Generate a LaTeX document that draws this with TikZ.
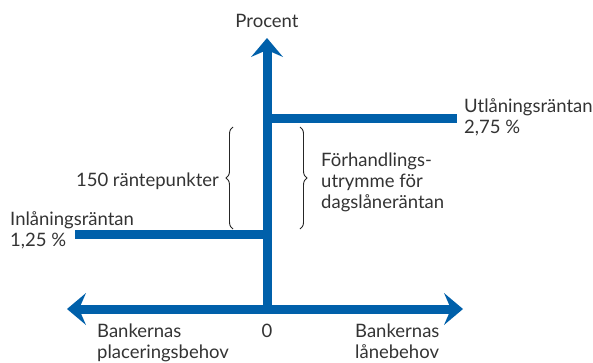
\documentclass[tikz,border=0pt]{standalone}
\usepackage{fontspec}
\setmainfont{Lato}
\usetikzlibrary{arrows.meta,decorations.pathreplacing}
\definecolor{rateblue}{RGB}{0,96,170}
\tikzstyle{axis} = [draw=rateblue, line width=9pt]
\tikzstyle{txt} = [inner sep=0pt, text=black!80, align=left,
    font=\fontsize{18.5}{21}\selectfont]
\tikzstyle{curly} = [draw=black!85, line width=0.9pt,
    decorate, decoration={brace, amplitude=7pt}]

\begin{document}
\begin{tikzpicture}[x=1pt, y=-1pt,
    >={Stealth[length=19pt, width=32pt, inset=7pt, line width=0pt]}]
    \useasboundingbox (0,0) rectangle (593,362);

    % Axis end points
    \coordinate (origin) at (267,309);
    \coordinate (west) at (67,309);
    \coordinate (east) at (463,309);
    \coordinate (north) at (267,38);

    % Rate levels
    \coordinate (lend) at (457,118);
    \coordinate (deposit) at (75,234);

    % Brace ends
    \coordinate (lbtop) at (233,127);
    \coordinate (lbbot) at (233,229);
    \coordinate (rbtop) at (300,127);
    \coordinate (rbbot) at (300,229);

    % Axes and the two rates
    \draw [axis,<->] (west) -- (east);
    \draw [axis,->] (origin) -- (north);
    \draw [axis] (origin |- lend) -- (lend);
    \draw [axis] (deposit) -- (origin |- deposit);

    % Braces
    \draw [curly] (lbbot) -- (lbtop);
    \draw [curly] (rbtop) -- (rbbot);

    % Labels (base = last line)
    \node [txt, anchor=base] (procent) at (267,27) {Procent};
    \node [txt, anchor=base east] (points) at (219,186) {150 räntepunkter};
    \node [txt, anchor=base west] (room) at (321,208)
        {Förhandlings-\\utrymme för\\dagslåneräntan};
    \node [txt, anchor=base west] (inrate) at (10,246)
        {Inlåningsräntan\\1,25 \%};
    \node [txt, anchor=base west] (outrate) at (464,133)
        {Utlåningsräntan\\2,75 \%};
    \node [txt, anchor=base west] (place) at (97,358)
        {Bankernas\\placeringsbehov};
    \node [txt, anchor=base] (zero) at (267,337) {0};
    \node [txt, anchor=base west] (borrow) at (355,358)
        {Bankernas\\lånebehov};
\end{tikzpicture}
\end{document}
